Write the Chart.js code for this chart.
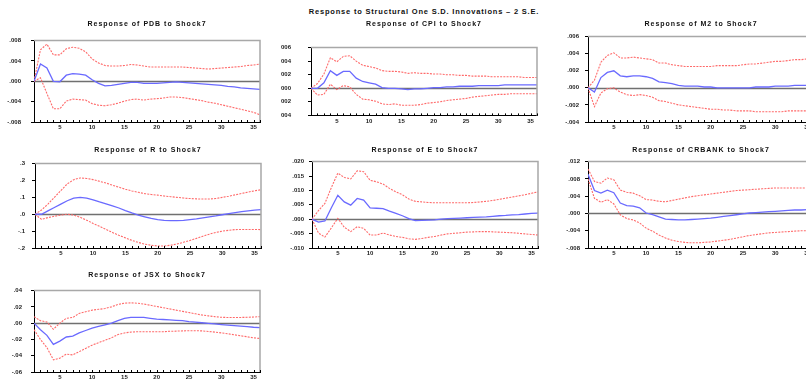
<!DOCTYPE html>
<html>
<head>
<meta charset="utf-8">
<script src="https://cdn.jsdelivr.net/npm/chart.js@4/dist/chart.umd.min.js"></script>
<style>
html, body { margin:0; padding:0; background:#fff; width:806px; height:380px; overflow:hidden; position:relative;
  font-family:"Liberation Sans", Arial, sans-serif; }
canvas { position:absolute; }
.ttl { position:absolute; font-weight:bold; font-size:7px; letter-spacing:1px; color:#111; white-space:nowrap;
  transform:translate(-50%, -50%); }
</style>
</head>
<body>
<div class="ttl" style="left:424px; top:11px; font-size:7.5px; letter-spacing:0.8px;">Response to Structural One S.D. Innovations – 2 S.E.</div>
<script>
// Horizon (periods after the shock)
const horizons = [1,2,3,4,5,6,7,8,9,10,11,12,13,14,15,16,17,18,19,20,21,22,23,24,25,26,27,28,29,30,31,32,33,34,35,36];

// Impulse responses to Shock7 with +/- 2 S.E. bands
const pdbResp  = [0,0.0034,0.0026,0.0000,-0.0001,0.0012,0.0015,0.0014,0.0012,0.0003,-0.0004,-0.0009,-0.0008,-0.0006,-0.0004,-0.0002,-0.0002,-0.0004,-0.0004,-0.0004,-0.0003,-0.0002,-0.0001,-0.0002,-0.0003,-0.0004,-0.0005,-0.0006,-0.0007,-0.0008,-0.0010,-0.0011,-0.0013,-0.0014,-0.0015,-0.0016];
const pdbUpper = [0,0.0062,0.0073,0.0052,0.0052,0.0064,0.0067,0.0065,0.0058,0.0044,0.0036,0.0031,0.0030,0.0030,0.0031,0.0033,0.0032,0.0030,0.0028,0.0028,0.0028,0.0028,0.0028,0.0028,0.0027,0.0026,0.0025,0.0024,0.0025,0.0026,0.0027,0.0028,0.0029,0.0031,0.0032,0.0034];
const pdbLower = [0,0.0007,-0.0024,-0.0054,-0.0054,-0.0039,-0.0035,-0.0036,-0.0037,-0.0044,-0.0047,-0.0048,-0.0046,-0.0043,-0.0039,-0.0036,-0.0035,-0.0037,-0.0035,-0.0034,-0.0033,-0.0031,-0.0031,-0.0032,-0.0034,-0.0036,-0.0038,-0.0041,-0.0043,-0.0046,-0.0049,-0.0052,-0.0055,-0.0058,-0.0061,-0.0066];

const cpiResp  = [0,0,0.0008,0.0026,0.0019,0.0025,0.0025,0.0015,0.0010,0.0008,0.0006,0.0001,0.0000,0.0000,-0.0001,-0.0002,-0.0001,-0.0001,0.0000,0.0001,0.0001,0.0002,0.0002,0.0003,0.0003,0.0003,0.0004,0.0004,0.0004,0.0004,0.0005,0.0005,0.0005,0.0005,0.0005,0.0005];
const cpiUpper = [0,0.0007,0.0021,0.0045,0.0039,0.0047,0.0048,0.0040,0.0034,0.0032,0.0030,0.0026,0.0025,0.0025,0.0024,0.0022,0.0023,0.0022,0.0022,0.0021,0.0021,0.0020,0.0020,0.0019,0.0019,0.0018,0.0018,0.0018,0.0017,0.0017,0.0017,0.0017,0.0017,0.0016,0.0016,0.0016];
const cpiLower = [0,-0.0010,-0.0009,0.0006,-0.0002,0.0004,0.0002,-0.0009,-0.0016,-0.0017,-0.0019,-0.0023,-0.0024,-0.0023,-0.0025,-0.0025,-0.0025,-0.0024,-0.0022,-0.0021,-0.0020,-0.0018,-0.0017,-0.0016,-0.0015,-0.0013,-0.0012,-0.0011,-0.0010,-0.0009,-0.0009,-0.0008,-0.0008,-0.0008,-0.0008,-0.0008];

const m2Resp  = [0,-0.0005,0.0012,0.0018,0.0020,0.0014,0.0013,0.0014,0.0014,0.0013,0.0011,0.0007,0.0006,0.0005,0.0003,0.0002,0.0002,0.0002,0.0001,0.0001,0.0000,0.0000,0.0000,0.0000,0.0000,0.0000,0.0001,0.0001,0.0001,0.0002,0.0002,0.0002,0.0003,0.0003,0.0003,0.0004];
const m2Upper = [0,0.0009,0.0030,0.0038,0.0041,0.0035,0.0035,0.0036,0.0035,0.0034,0.0033,0.0029,0.0029,0.0027,0.0026,0.0025,0.0025,0.0025,0.0025,0.0025,0.0026,0.0026,0.0026,0.0026,0.0027,0.0028,0.0028,0.0029,0.0030,0.0031,0.0031,0.0032,0.0033,0.0033,0.0034,0.0035];
const m2Lower = [0,-0.0022,-0.0006,-0.0001,0.0000,-0.0005,-0.0008,-0.0009,-0.0008,-0.0009,-0.0011,-0.0015,-0.0016,-0.0018,-0.0020,-0.0021,-0.0022,-0.0023,-0.0024,-0.0025,-0.0025,-0.0026,-0.0026,-0.0027,-0.0027,-0.0027,-0.0028,-0.0028,-0.0028,-0.0028,-0.0028,-0.0027,-0.0027,-0.0027,-0.0027,-0.0027];

const rResp  = [0,0,0.02,0.04,0.06,0.08,0.095,0.10,0.095,0.085,0.073,0.062,0.05,0.037,0.022,0.008,-0.005,-0.015,-0.025,-0.032,-0.036,-0.038,-0.038,-0.036,-0.032,-0.028,-0.022,-0.016,-0.01,-0.003,0.004,0.01,0.015,0.02,0.024,0.027];
const rUpper = [0,0.025,0.06,0.1,0.14,0.18,0.205,0.215,0.212,0.205,0.195,0.185,0.172,0.16,0.148,0.138,0.13,0.122,0.117,0.113,0.108,0.104,0.1,0.096,0.093,0.091,0.09,0.09,0.093,0.1,0.107,0.115,0.123,0.131,0.139,0.145];
const rLower = [0,-0.03,-0.02,-0.012,-0.005,0.0,-0.005,-0.018,-0.035,-0.055,-0.072,-0.09,-0.108,-0.125,-0.14,-0.155,-0.167,-0.177,-0.184,-0.188,-0.188,-0.184,-0.176,-0.166,-0.155,-0.143,-0.13,-0.118,-0.108,-0.1,-0.095,-0.091,-0.09,-0.09,-0.09,-0.091];

const eResp  = [0,-0.0010,-0.0006,0.0040,0.0083,0.0060,0.0049,0.0072,0.0066,0.0039,0.0038,0.0037,0.0028,0.0020,0.0012,0.0002,-0.0005,-0.0004,-0.0003,-0.0002,0.0000,0.0002,0.0003,0.0004,0.0005,0.0006,0.0007,0.0008,0.0010,0.0012,0.0013,0.0015,0.0016,0.0018,0.0020,0.0021];
const eUpper = [0,0.0030,0.0055,0.0110,0.0160,0.0145,0.0140,0.0168,0.0165,0.0135,0.0130,0.0122,0.0107,0.0095,0.0085,0.0070,0.0062,0.0060,0.0058,0.0057,0.0057,0.0057,0.0057,0.0057,0.0057,0.0058,0.0060,0.0062,0.0065,0.0069,0.0073,0.0077,0.0081,0.0085,0.0090,0.0095];
const eLower = [0,-0.0048,-0.0062,-0.0030,0.0003,-0.0028,-0.0043,-0.0026,-0.0032,-0.0055,-0.0055,-0.0048,-0.0055,-0.0060,-0.0063,-0.0068,-0.0070,-0.0067,-0.0063,-0.0060,-0.0055,-0.0051,-0.0049,-0.0047,-0.0045,-0.0044,-0.0043,-0.0043,-0.0044,-0.0045,-0.0046,-0.0047,-0.0049,-0.0051,-0.0053,-0.0055];

const crbankResp  = [0.0091,0.0053,0.0047,0.0054,0.0048,0.0024,0.0018,0.0017,0.0013,0.0001,-0.0003,-0.0008,-0.0013,-0.0014,-0.0015,-0.0015,-0.0014,-0.0013,-0.0012,-0.0011,-0.0009,-0.0007,-0.0005,-0.0003,-0.0001,0.0001,0.0002,0.0003,0.0004,0.0005,0.0006,0.0007,0.0008,0.0008,0.0009,0.0009];
const crbankUpper = [0.0103,0.0074,0.0070,0.0082,0.0078,0.0054,0.0049,0.0047,0.0041,0.0032,0.0031,0.0028,0.0027,0.0030,0.0033,0.0036,0.0039,0.0041,0.0043,0.0045,0.0047,0.0049,0.0051,0.0053,0.0054,0.0055,0.0056,0.0057,0.0058,0.0059,0.0059,0.0059,0.0059,0.0059,0.0059,0.0058];
const crbankLower = [0.0080,0.0035,0.0026,0.0032,0.0022,-0.0003,-0.0012,-0.0015,-0.0022,-0.0034,-0.0041,-0.0050,-0.0057,-0.0062,-0.0065,-0.0067,-0.0068,-0.0068,-0.0067,-0.0066,-0.0064,-0.0062,-0.0060,-0.0057,-0.0054,-0.0051,-0.0049,-0.0047,-0.0045,-0.0044,-0.0043,-0.0042,-0.0041,-0.0040,-0.0040,-0.0039];

const jsxResp  = [0,-0.008,-0.015,-0.026,-0.022,-0.017,-0.016,-0.012,-0.009,-0.006,-0.004,-0.002,0.0,0.003,0.006,0.007,0.007,0.007,0.006,0.005,0.0045,0.004,0.0035,0.003,0.002,0.0012,0.0005,-0.0003,-0.001,-0.0017,-0.0024,-0.003,-0.0037,-0.0043,-0.005,-0.0055];
const jsxUpper = [0.008,0.003,0.0015,-0.0075,0.0,0.006,0.007,0.012,0.014,0.016,0.017,0.018,0.02,0.023,0.0245,0.025,0.0245,0.0235,0.022,0.0205,0.019,0.0175,0.016,0.0145,0.013,0.0115,0.01,0.009,0.008,0.0072,0.007,0.007,0.007,0.0072,0.0075,0.008];
const jsxLower = [-0.008,-0.02,-0.03,-0.045,-0.043,-0.038,-0.039,-0.035,-0.031,-0.027,-0.024,-0.021,-0.018,-0.014,-0.012,-0.011,-0.0105,-0.0105,-0.0105,-0.0105,-0.0105,-0.01,-0.0098,-0.0095,-0.0093,-0.0093,-0.0095,-0.0102,-0.011,-0.012,-0.013,-0.0142,-0.0155,-0.0167,-0.018,-0.0188];

// Variable names and y-axis tick ranges
const variables = ['PDB', 'CPI', 'M2', 'R', 'E', 'CRBANK', 'JSX'];
const yMin      = [-0.008, -0.004, -0.004, -0.2, -0.010, -0.008, -0.06];
const yMax      = [ 0.008,  0.006,  0.006,  0.3,  0.020,  0.012,  0.04];
const yStep     = [ 0.004,  0.002,  0.002,  0.1,  0.005,  0.004,  0.02];
const yDecimals = [3, 3, 3, 1, 3, 3, 2];
const series = [
  [pdbResp, pdbUpper, pdbLower],
  [cpiResp, cpiUpper, cpiLower],
  [m2Resp, m2Upper, m2Lower],
  [rResp, rUpper, rLower],
  [eResp, eUpper, eLower],
  [crbankResp, crbankUpper, crbankLower],
  [jsxResp, jsxUpper, jsxLower]
];

// Panel plot areas (left, top, bottom) and tick-label gap
const panelBoxes = [
  { left: 34,  top: 33,  bottom: 122, gap: 10 },
  { left: 311, top: 33,  bottom: 122, gap: 17 },
  { left: 588, top: 33,  bottom: 122, gap: 6 },
  { left: 35,  top: 159, bottom: 248, gap: 7 },
  { left: 312, top: 159, bottom: 248, gap: 5 },
  { left: 588, top: 159, bottom: 248, gap: 5 },
  { left: 34,  top: 284, bottom: 372, gap: 9 }
];
const PLOT_W = 226, AXIS_W = 30, AXIS_H = 14, PAD_T = 6, PAD_R = 6;

const tickFont = { family: '"Liberation Sans", Arial, sans-serif', size: 6, weight: 'bold' };

function fmtTick(v, dec, step) {
  if (Math.abs(v) < step * 1e-6) v = 0;
  const s = v.toFixed(dec);
  return s.replace(/^(-?)0\./, '$1.');
}

// Zero line, grey top/right frame and inward horizon ticks
const framePlugin = {
  id: 'irfFrame',
  beforeDatasetsDraw(chart) {
    const { ctx, chartArea: a, scales: { y } } = chart;
    const y0 = Math.round(y.getPixelForValue(0)) + 0.5;
    ctx.save();
    ctx.strokeStyle = '#707070';
    ctx.lineWidth = 1.4;
    ctx.beginPath(); ctx.moveTo(a.left, y0); ctx.lineTo(a.right, y0); ctx.stroke();
    ctx.restore();
  },
  afterDraw(chart) {
    const { ctx, chartArea: a, scales: { x } } = chart;
    ctx.save();
    ctx.strokeStyle = '#a8a8a8';
    ctx.lineWidth = 1.5;
    ctx.beginPath();
    ctx.moveTo(a.left, a.top); ctx.lineTo(a.right, a.top); ctx.lineTo(a.right, a.bottom);
    ctx.stroke();
    ctx.strokeStyle = '#000';
    ctx.lineWidth = 1;
    ctx.beginPath();
    x.ticks.forEach(t => {
      const px = Math.round(x.getPixelForValue(t.value)) + 0.5;
      ctx.moveTo(px, a.bottom); ctx.lineTo(px, a.bottom - 2);
    });
    ctx.stroke();
    ctx.restore();
  }
};

variables.forEach((name, i) => {
  const box = panelBoxes[i];
  const cv = document.createElement('canvas');
  const w = PLOT_W + AXIS_W + PAD_R;
  const h = (box.bottom - box.top) + PAD_T + AXIS_H;
  cv.width = w; cv.height = h;
  cv.style.left = (box.left - AXIS_W) + 'px';
  cv.style.top = (box.top - PAD_T) + 'px';
  cv.style.width = w + 'px'; cv.style.height = h + 'px';
  document.body.appendChild(cv);

  const ttl = document.createElement('div');
  ttl.className = 'ttl';
  ttl.textContent = 'Response of ' + name + ' to Shock7';
  ttl.style.left = (box.left + PLOT_W / 2) + 'px';
  ttl.style.top = (box.top - 10) + 'px';
  document.body.appendChild(ttl);

  const [resp, upper, lower] = series[i];
  const pts = arr => horizons.map((hz, k) => ({ x: hz, y: arr[k] }));

  new Chart(cv, {
    type: 'line',
    data: {
      datasets: [
        { data: pts(resp), borderColor: '#6a6aff', borderWidth: 1.3, pointRadius: 0, tension: 0 },
        { data: pts(upper), borderColor: '#ff6a6a', borderWidth: 1.1, borderDash: [2, 1.2], pointRadius: 0, tension: 0 },
        { data: pts(lower), borderColor: '#ff6a6a', borderWidth: 1.1, borderDash: [2, 1.2], pointRadius: 0, tension: 0 }
      ]
    },
    options: {
      responsive: false,
      animation: false,
      devicePixelRatio: 1,
      layout: { padding: { top: PAD_T, right: PAD_R, bottom: 0, left: 0 } },
      plugins: { legend: { display: false }, tooltip: { enabled: false }, title: { display: false } },
      scales: {
        x: {
          type: 'linear', min: 1, max: 36,
          border: { display: true, color: '#000', width: 1 },
          grid: { drawOnChartArea: false, drawTicks: false },
          ticks: {
            stepSize: 1, autoSkip: false, maxRotation: 0, minRotation: 0, padding: 2,
            color: '#222', font: tickFont,
            callback: v => (v % 5 === 0 ? String(v) : '')
          },
          afterFit: s => { s.height = AXIS_H; }
        },
        y: {
          min: yMin[i], max: yMax[i],
          border: { display: true, color: '#000', width: 1 },
          grid: { drawOnChartArea: false, drawTicks: true, tickLength: 3, color: '#000' },
          ticks: {
            stepSize: yStep[i], padding: box.gap, color: '#222', font: tickFont,
            callback: v => fmtTick(v, yDecimals[i], yStep[i])
          },
          afterFit: s => { s.width = AXIS_W; }
        }
      }
    },
    plugins: [framePlugin]
  });
});
</script>
</body>
</html>
